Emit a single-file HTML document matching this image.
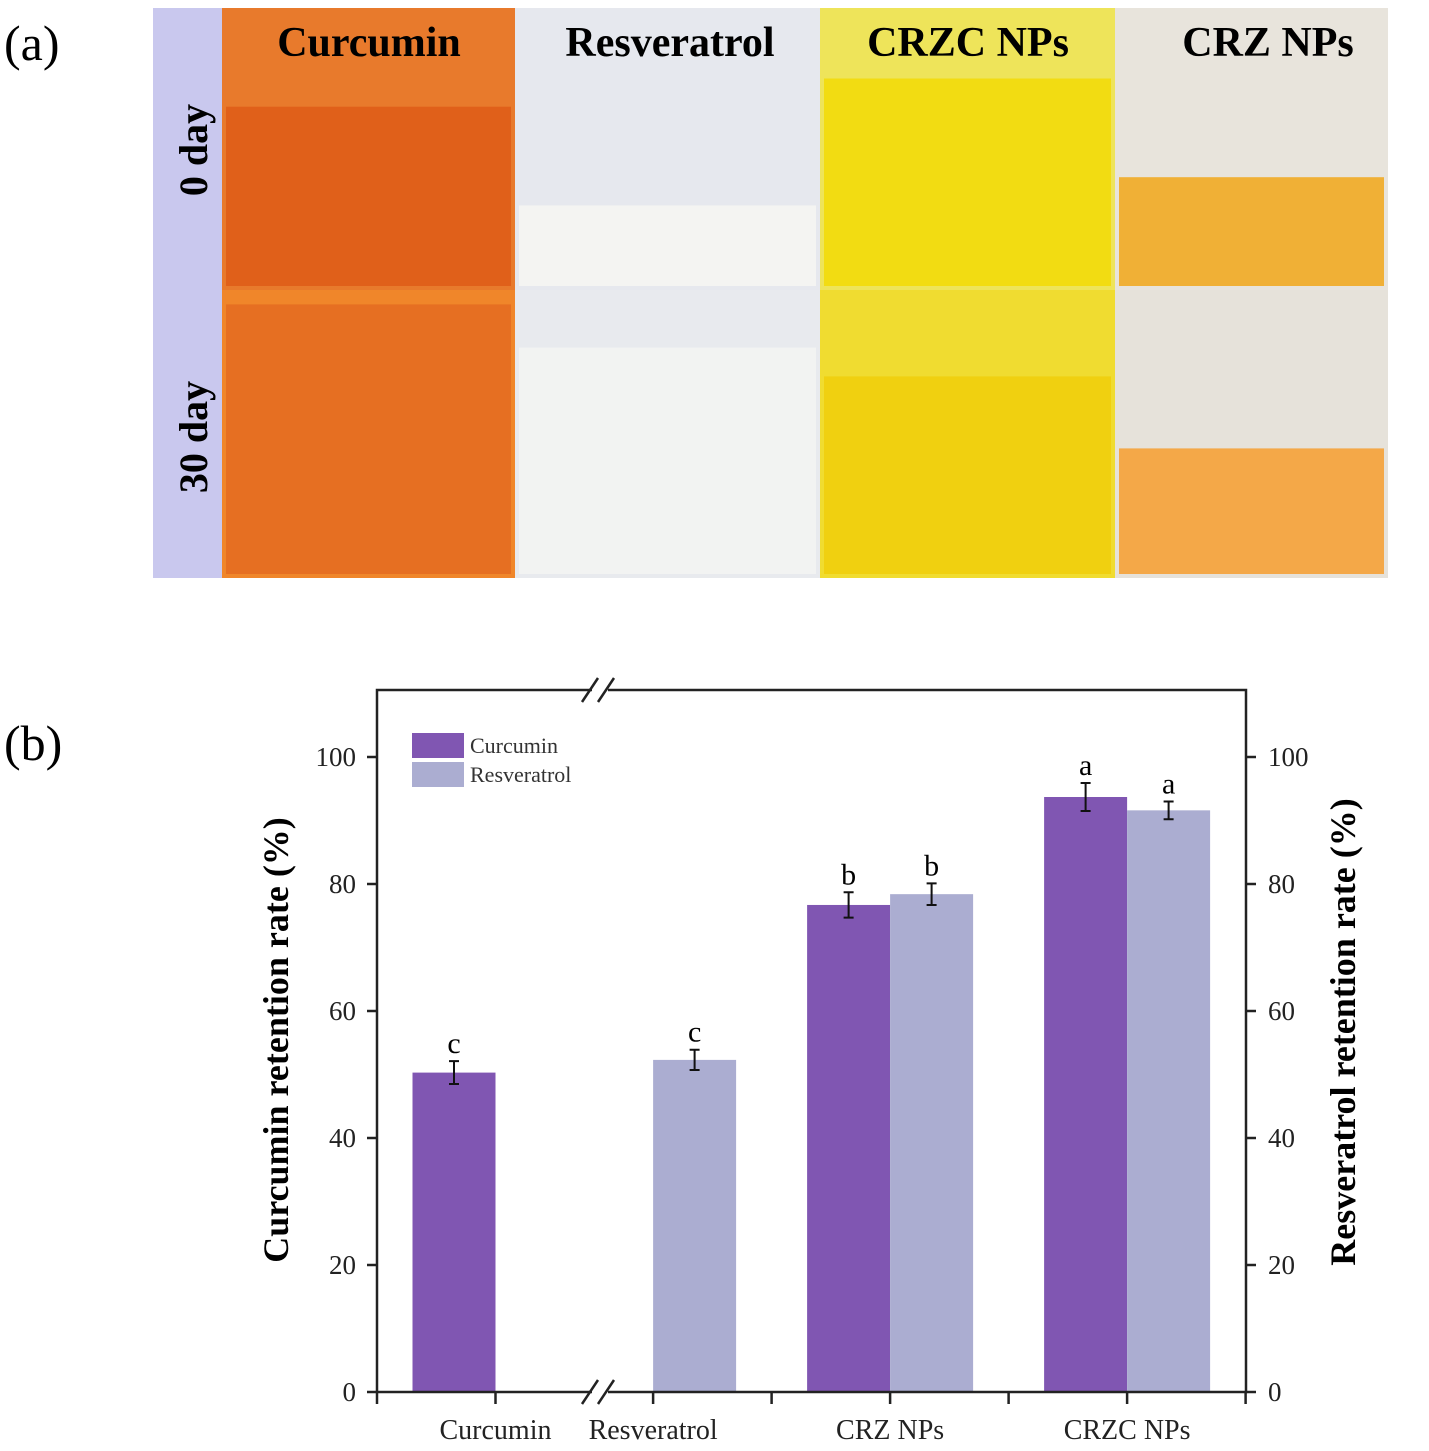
<!DOCTYPE html>
<html><head><meta charset="utf-8"><style>
body{margin:0;background:#fff;width:1429px;height:1451px;overflow:hidden;font-family:"Liberation Serif",serif}
svg{display:block}
</style></head><body>
<svg width="1429" height="1451">
<g>
<text x="4" y="60" font-size="50">(a)</text>
<rect x="153" y="8" width="70" height="570" fill="#c9c8ee"/>
<g id="photos"></g>
<text transform="translate(207,150) rotate(-90)" text-anchor="middle" font-size="40" font-weight="bold">0 day</text>
<text transform="translate(207,437) rotate(-90)" text-anchor="middle" font-size="40" font-weight="bold">30 day</text>
<text x="369" y="56" text-anchor="middle" font-size="42" font-weight="bold">Curcumin</text>
<text x="670" y="56" text-anchor="middle" font-size="42" font-weight="bold">Resveratrol</text>
<text x="968" y="56" text-anchor="middle" font-size="42" font-weight="bold">CRZC NPs</text>
<text x="1268" y="56" text-anchor="middle" font-size="42" font-weight="bold">CRZ NPs</text>
</g>
<g>
<text x="4" y="760" font-size="50">(b)</text>
<g id="chart"></g>
</g>
</svg>
<script>
const NS="http://www.w3.org/2000/svg";
function mk(p,t,a){const e=document.createElementNS(NS,t);for(const k in a)e.setAttribute(k,a[k]);p.appendChild(e);return e;}
const ph=document.getElementById('photos');
const cols=[[222,515],[515,820],[820,1115],[1115,1388]];
const rows=[[8,290],[290,578]];
const powder=[["#e0601a","#e66f22"],["#f4f4f2","#f2f3f2"],["#f2dc12","#f0d010"],["#f0b036","#f4a848"]];
const bagc=[["#e87a2c","#f0862a"],["#e6e8ee","#e8eaee"],["#eee45a","#f0dc30"],["#e8e4dc","#e6e2da"]];
const ptop=[[0.35,0.05],[0.7,0.2],[0.25,0.3],[0.6,0.55]];
for(let c=0;c<4;c++)for(let r=0;r<2;r++){
 const [x0,x1]=cols[c],[y0,y1]=rows[r];
 const g=mk(ph,'rect',{x:x0,y:y0,width:x1-x0,height:y1-y0,fill:bagc[c][r]});
 
 
 const h=y1-y0,py=y0+h*ptop[c][r];
 const p=mk(ph,'rect',{x:x0+4,y:py,width:x1-x0-8,height:y1-py-4,fill:powder[c][r]});
 
 
}
const groups=["Curcumin","Resveratrol","CRZ NPs","CRZC NPs"];
const groupPos=[1,2.33,4.33,6.33];
const curVals=[50.3,null,76.7,93.7];
const curErr=[1.8,null,2.0,2.2];
const resVals=[null,52.3,78.4,91.6];
const resErr=[null,1.6,1.7,1.4];
const curLetters=["c",null,"b","a"];
const resLetters=[null,"c","b","a"];
const yTicks=[0,20,40,60,80,100];
const xTickUnits=[0,1,2.33,3.33,4.33,5.33,6.33,7.33];
const ch=document.getElementById('chart');
const X0=377,UNIT=118.5,Y0=1392,YS=6.35;
const xs=u=>X0+u*UNIT, ys=v=>Y0-v*YS;
const BW=83;
const PUR="#8056b2",LAV="#abadd1";
function bar(v,e,l,x,col,name){
 if(v==null)return;
 const b=mk(ch,'rect',{x:x,y:ys(v),width:BW,height:ys(0)-ys(v),fill:col});
 
 
 const cx=x+BW/2;
 const eb=mk(ch,'path',{d:`M${cx} ${ys(v+e)}V${ys(v-e)}M${cx-5} ${ys(v+e)}H${cx+5}M${cx-5} ${ys(v-e)}H${cx+5}`,stroke:'#111','stroke-width':2,fill:'none'});
 
 
 const t=mk(ch,'text',{x:cx,y:ys(v+e)-8,'text-anchor':'middle','font-size':30});
 t.textContent=l;
 
 
}
groups.forEach((g,i)=>{
 const c=xs(groupPos[i]);
 bar(curVals[i],curErr[i],curLetters[i],c-BW,PUR,'bar-curcumin');
 bar(resVals[i],resErr[i],resLetters[i],c,LAV,'bar-resveratrol');
 const t=mk(ch,'text',{x:c,y:1439,'text-anchor':'middle','font-size':28,fill:'#222'});
 t.textContent=g;
 
 
});
const XR=1246,YT=690,BX=600;
const ax=mk(ch,'path',{d:`M${X0} ${Y0}V${YT}H${BX-8}M${BX+8} ${YT}H${XR}V${Y0}H${BX+8}M${BX-8} ${Y0}H${X0}`,stroke:'#222','stroke-width':2.5,fill:'none'});


[YT,Y0].forEach(y=>{
 const br=mk(ch,'path',{d:`M${BX-18} ${y+12}L${BX-2} ${y-12}M${BX-2} ${y+12}L${BX+14} ${y-12}`,stroke:'#222','stroke-width':2.5,fill:'none'});
 
 
});
xTickUnits.forEach(u=>{
 const t=mk(ch,'line',{x1:xs(u),x2:xs(u),y1:Y0,y2:Y0+12,stroke:'#222','stroke-width':2.5});
 
 
});
yTicks.forEach(v=>{
 const l=mk(ch,'path',{d:`M${X0-10} ${ys(v)}H${X0}M${XR} ${ys(v)}H${XR+10}`,stroke:'#222','stroke-width':2.5});
 
 
 const a=mk(ch,'text',{x:356,y:ys(v)+9,'text-anchor':'end','font-size':27,fill:'#222'});
 a.textContent=v;
 
 
 const b=mk(ch,'text',{x:1268,y:ys(v)+9,'font-size':27,fill:'#222'});
 b.textContent=v;
 
 
});
const lt=mk(ch,'text',{transform:'translate(288,1040) rotate(-90)','text-anchor':'middle','font-size':36,'font-weight':'bold'});
lt.textContent='Curcumin retention rate (%)';


const rt=mk(ch,'text',{transform:'translate(1355,1032) rotate(-90)','text-anchor':'middle','font-size':36,'font-weight':'bold'});
rt.textContent='Resveratrol retention rate (%)';


[[PUR,'Curcumin',733],[LAV,'Resveratrol',762]].forEach(([c,n,y])=>{
 const r=mk(ch,'rect',{x:412,y:y,width:52,height:25,fill:c});
 
 
 const t=mk(ch,'text',{x:470,y:y+20,'font-size':22,fill:'#333'});
 t.textContent=n;
 
 
});
</script>
</body></html>
